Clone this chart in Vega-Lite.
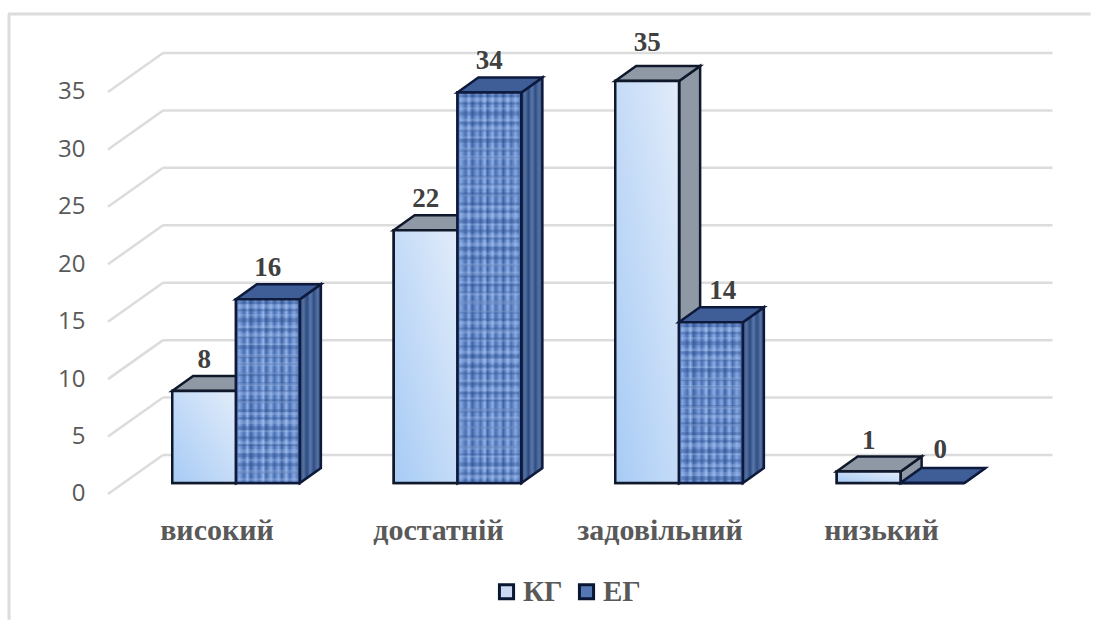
{
  "$schema": "https://vega.github.io/schema/vega-lite/v6.json",
  "width": 1101,
  "height": 626,
  "padding": 0,
  "autosize": {"type": "fit", "contains": "padding"},
  "background": "#ffffff",
  "config": {"view": {"stroke": null}},
  "datasets": {
    "bars": [
      {"level": "високий", "group": "КГ", "value": 8},
      {"level": "високий", "group": "ЕГ", "value": 16},
      {"level": "достатній", "group": "КГ", "value": 22},
      {"level": "достатній", "group": "ЕГ", "value": 34},
      {"level": "задовільний", "group": "КГ", "value": 35},
      {"level": "задовільний", "group": "ЕГ", "value": 14},
      {"level": "низький", "group": "КГ", "value": 1},
      {"level": "низький", "group": "ЕГ", "value": 0}
    ],
    "ticks": [{"tick": 0}, {"tick": 5}, {"tick": 10}, {"tick": 15}, {"tick": 20}, {"tick": 25}, {"tick": 30}, {"tick": 35}],
    "frame": [{"low": -11.9, "high": 40.83, "first": "високий", "last": "низький"}]
  },
  "data": {"name": "bars"},
  "encoding": {
    "x": {
      "field": "level",
      "type": "nominal",
      "sort": null,
      "title": null,
      "scale": {
        "type": "band",
        "domain": ["високий", "достатній", "задовільний", "низький"],
        "range": [125.25, 1011.25],
        "paddingInner": 0.4244,
        "paddingOuter": 0.2122
      },
      "axis": {
        "domain": false, "ticks": false, "grid": false, "labelAngle": 0,
        "labelFont": "Liberation Serif", "labelFontWeight": "bold", "labelFontSize": 30,
        "labelColor": "#595959", "labelPadding": 0, "labelBaseline": "middle",
        "labelOffset": -19, "offset": -96, "labelLimit": 300
      }
    },
    "y": {
      "field": "value",
      "type": "quantitative",
      "title": null,
      "scale": {"domain": [-12.45, 42.05], "nice": false, "zero": false},
      "axis": {
        "values": [0, 5, 10, 15, 20, 25, 30, 35],
        "domain": false, "ticks": false, "grid": false,
        "labelFont": "Open Sans", "labelFontSize": 24, "labelColor": "#595959",
        "labelPadding": 0, "labelOffset": 11, "offset": -85
      }
    },
    "xOffset": {
      "field": "group",
      "type": "nominal",
      "sort": null,
      "scale": {"domain": ["КГ", "ЕГ"], "paddingInner": 0, "paddingOuter": 0}
    }
  },
  "layer": [
    {
      "data": {"name": "frame"},
      "mark": {"type": "rule", "color": "#dcdcdc", "strokeWidth": 3, "xOffset": -227},
      "encoding": {
        "xOffset": null,
        "x": {"field": "first", "type": "nominal", "title": null},
        "y": {"field": "low", "type": "quantitative", "title": null},
        "y2": {"field": "high"}
      }
    },
    {
      "data": {"name": "frame"},
      "mark": {"type": "rule", "color": "#dcdcdc", "strokeWidth": 3, "xOffset": -228, "x2Offset": 190},
      "encoding": {
        "xOffset": null,
        "x": {"field": "first", "type": "nominal", "title": null},
        "x2": {"field": "last"},
        "y": {"field": "high", "type": "quantitative", "title": null}
      }
    },
    {
      "data": {"name": "ticks"},
      "mark": {"type": "rule", "color": "#dcdcdc", "strokeWidth": 2.5, "xOffset": -73, "x2Offset": 152, "yOffset": -28},
      "encoding": {
        "xOffset": null,
        "x": {"datum": "високий", "title": null},
        "x2": {"datum": "низький"},
        "y": {"field": "tick", "type": "quantitative", "title": null}
      }
    },
    {
      "data": {"name": "ticks"},
      "mark": {"type": "rule", "color": "#dcdcdc", "strokeWidth": 2.5, "xOffset": -128, "x2Offset": -73, "yOffset": 11, "y2Offset": -28},
      "encoding": {
        "xOffset": null,
        "x": {"datum": "високий", "title": null},
        "x2": {"datum": "високий"},
        "y": {"field": "tick", "type": "quantitative", "title": null},
        "y2": {"field": "tick"}
      }
    },
    {
      "transform": [{"filter": "datum.group === 'КГ'"}],
      "mark": {
        "type": "point", "filled": true, "size": 4, "opacity": 1,
        "shape": {"expr": "'M32,0L53,-15L53,' + (scale('y',0)-scale('y',datum.value)-15) + 'L32,' + (scale('y',0)-scale('y',datum.value)) + 'Z'"},
        "fill": "#8f98a5", "stroke": "#10192b", "strokeWidth": 2.5
      }
    },
    {
      "transform": [{"filter": "datum.group === 'КГ'"}],
      "mark": {
        "type": "point", "filled": true, "size": 4, "opacity": 1,
        "shape": "M-32,0L-11,-15L53,-15L32,0Z",
        "fill": "#8f98a5", "stroke": "#10192b", "strokeWidth": 2.5
      }
    },
    {
      "mark": {"type": "bar", "stroke": "#10192b", "strokeWidth": 2.5},
      "encoding": {
        "y2": {"datum": 0},
        "color": {
          "field": "group",
          "type": "nominal",
          "scale": {"domain": ["КГ", "ЕГ"], "range": ["#ccd9f2", "#5578b4"]},
          "legend": {
            "orient": "none", "legendX": 492, "legendY": 577, "direction": "horizontal", "title": null,
            "symbolType": "square", "symbolSize": 200, "symbolStrokeColor": "#0b1633", "symbolStrokeWidth": 3,
            "labelFont": "Liberation Serif", "labelFontWeight": "bold", "labelFontSize": 29, "labelColor": "#595959",
            "labelOffset": 2, "columnPadding": 9
          }
        }
      }
    },
    {
      "transform": [{"filter": "datum.group === 'КГ'"}],
      "mark": {
        "type": "bar", "stroke": "#10192b", "strokeWidth": 2.5,
        "fill": {
          "gradient": "linear", "x1": 0, "y1": 1, "x2": 1, "y2": 0,
          "stops": [{"offset": 0, "color": "#a7cbf5"}, {"offset": 1, "color": "#e2ecfa"}]
        }
      },
      "encoding": {"y2": {"datum": 0}}
    },
    {
      "transform": [{"filter": "datum.group === 'ЕГ'"}],
      "mark": {
        "type": "point", "filled": true, "size": 4, "opacity": 1,
        "shape": {"expr": "'M32,0L53,-15L53,' + (scale('y',0)-scale('y',datum.value)-15) + 'L32,' + (scale('y',0)-scale('y',datum.value)) + 'Z'"},
        "stroke": "#0e1a3c", "strokeWidth": 2.5,
        "fill": {
          "gradient": "linear", "x1": 0, "y1": 0, "x2": 1, "y2": 0,
          "stops": [
            {"offset": 0, "color": "#2f4c85"}, {"offset": 0.17, "color": "#54719f"}, {"offset": 0.34, "color": "#2c4a80"},
            {"offset": 0.5, "color": "#5a78a8"}, {"offset": 0.67, "color": "#304e86"}, {"offset": 0.84, "color": "#55729f"},
            {"offset": 1, "color": "#2f4c85"}
          ]
        }
      }
    },
    {
      "transform": [{"filter": "datum.group === 'ЕГ'"}],
      "mark": {
        "type": "point", "filled": true, "size": 4, "opacity": 1,
        "shape": "M-32,0L-11,-15L53,-15L32,0Z",
        "fill": "#3f5d96", "stroke": "#0e1a3c", "strokeWidth": 2.5
      }
    },
    {
      "transform": [{"filter": "datum.group === 'ЕГ'"}],
      "mark": {
        "type": "bar", "stroke": "#0e1a3c", "strokeWidth": 2.5,
        "fill": {
          "gradient": "linear", "x1": 0, "y1": 0, "x2": 1, "y2": 0,
          "stops": [
            {"offset": 0, "color": "#3f64a8"}, {"offset": 0.05, "color": "#86a8e0"}, {"offset": 0.13, "color": "#4a70b4"},
            {"offset": 0.18, "color": "#8fb0e6"}, {"offset": 0.23, "color": "#3f64a8"}, {"offset": 0.31, "color": "#7fa2dc"},
            {"offset": 0.36, "color": "#4a70b4"}, {"offset": 0.43, "color": "#93b4e8"}, {"offset": 0.47, "color": "#4166aa"},
            {"offset": 0.55, "color": "#8cade4"}, {"offset": 0.6, "color": "#4a70b4"}, {"offset": 0.67, "color": "#86a8e0"},
            {"offset": 0.72, "color": "#3f64a8"}, {"offset": 0.79, "color": "#90b1e6"}, {"offset": 0.84, "color": "#4a70b4"},
            {"offset": 0.91, "color": "#84a6df"}, {"offset": 1, "color": "#3f64a8"}
          ]
        }
      },
      "encoding": {"y2": {"datum": 0}}
    },
    {
      "transform": [{"filter": "datum.group === 'ЕГ' && datum.value > 0"}],
      "mark": {"type": "rule", "strokeWidth": 60, "strokeDash": [3, 5, 2, 7, 4, 6], "color": "#2b4c8c", "opacity": 0.35, "yOffset": 2, "y2Offset": -2},
      "encoding": {"y2": {"datum": 0}}
    },
    {
      "transform": [{"filter": "datum.group === 'ЕГ' && datum.value > 0"}],
      "mark": {"type": "rule", "strokeWidth": 60, "strokeDash": [4, 6, 2, 9, 3, 5], "color": "#b3cdf5", "opacity": 0.28, "yOffset": 5, "y2Offset": -2},
      "encoding": {"y2": {"datum": 0}}
    },
    {
      "mark": {
        "type": "text", "font": "Liberation Serif", "fontWeight": "bold", "fontSize": 27, "color": "#404040",
        "baseline": "middle", "align": "center",
        "dy": {"expr": "datum.value === 35 ? -38 : datum.value === 0 ? -33 : -31"},
        "dx": {"expr": "datum.value === 0 ? 8 : datum.value === 14 ? 12 : 0"}
      },
      "encoding": {"text": {"field": "value", "type": "quantitative"}}
    }
  ]
}
